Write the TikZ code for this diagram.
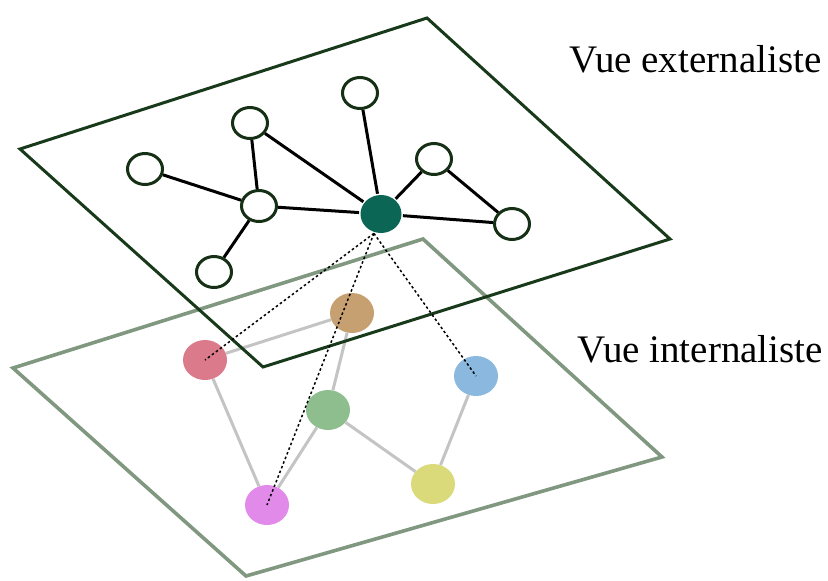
\documentclass[tikz,border=0pt]{standalone}
\usepackage{fontspec}
\setmainfont{Liberation Serif}
\usetikzlibrary{shapes.geometric}
\definecolor{planetop}{RGB}{24,58,26}
\definecolor{planelow}{RGB}{128,152,128}
\definecolor{nodeline}{RGB}{22,48,22}
\definecolor{hubcol}{RGB}{12,102,86}
\definecolor{linkgray}{RGB}{196,196,196}
\definecolor{pinkc}{RGB}{218,122,138}
\definecolor{brownc}{RGB}{198,160,112}
\definecolor{bluec}{RGB}{138,184,222}
\definecolor{greenc}{RGB}{142,190,142}
\definecolor{magc}{RGB}{226,138,234}
\definecolor{yellc}{RGB}{218,218,122}

\begin{document}
\begin{tikzpicture}[x=1pt,y=-1pt]
\useasboundingbox (0,0) rectangle (828,581);
% vue internaliste
\draw [planelow,line width=3.6pt] (423,239) -- (662,457) -- (246,576) -- (13,368) -- cycle;
\tikzstyle{every node}=[shape=ellipse,minimum width=44pt,minimum height=40pt,inner sep=0pt];
\node[fill=pinkc] (i1) at (205,360) {};
\node[fill=brownc] (i2) at (352,313) {};
\node[fill=bluec] (i3) at (476,376) {};
\node[fill=greenc] (i4) at (328,410) {};
\node[fill=magc] (i5) at (267,505) {};
\node[fill=yellc] (i6) at (433,484) {};
\draw [linkgray,line width=3pt] (i1) -- (i2);
\draw [linkgray,line width=3pt] (i2) -- (i4);
\draw [linkgray,line width=3pt] (i1) -- (i5);
\draw [linkgray,line width=3pt] (i4) -- (i5);
\draw [linkgray,line width=3pt] (i4) -- (i6);
\draw [linkgray,line width=3pt] (i3) -- (i6);
% vue externaliste
\draw [planetop,line width=3pt] (427,18) -- (670,239) -- (263,367) -- (20,149) -- cycle;
\tikzstyle{every node}=[draw=nodeline,fill=white,shape=ellipse,line width=3pt,minimum width=35pt,minimum height=31pt,inner sep=0pt];
\node (v1) at (145,169) {};
\node (v2) at (250,123) {};
\node (v3) at (259,206) {};
\node (v4) at (214,272) {};
\node (v5) at (360,93) {};
\node (v6) at (434,159) {};
\node (v7) at (512,224) {};
\node[draw=none,fill=hubcol,minimum width=41pt,minimum height=38pt] (v0) at (381,214) {};
\tikzstyle{every node}=[];
\draw [line width=3pt] (v1) -- (v3);
\draw [line width=3pt] (v2) -- (v3);
\draw [line width=3pt] (v3) -- (v4);
\draw [line width=3pt] (v3) -- (v0);
\draw [line width=3pt] (v2) -- (v0);
\draw [line width=3pt] (v5) -- (v0);
\draw [line width=3pt] (v6) -- (v0);
\draw [line width=3pt] (v0) -- (v7);
\draw [line width=3pt] (v6) -- (v7);
% projections
\draw [line width=1.5pt,dash pattern=on 2.5pt off 2.5pt] (v0.250) -- (i1.center);
\draw [line width=1.5pt,dash pattern=on 2.5pt off 2.5pt] (v0.250) -- (i5.center);
\draw [line width=1.5pt,dash pattern=on 2.5pt off 2.5pt] (v0.250) -- (i3.center);
\node[anchor=base west,inner sep=0pt,font=\fontsize{39}{46}\selectfont] (ext) at (569,72) {Vue externaliste};
\node[anchor=base west,inner sep=0pt,font=\fontsize{39}{46}\selectfont] (int) at (577,362) {Vue internaliste};
\end{tikzpicture}
\end{document}
